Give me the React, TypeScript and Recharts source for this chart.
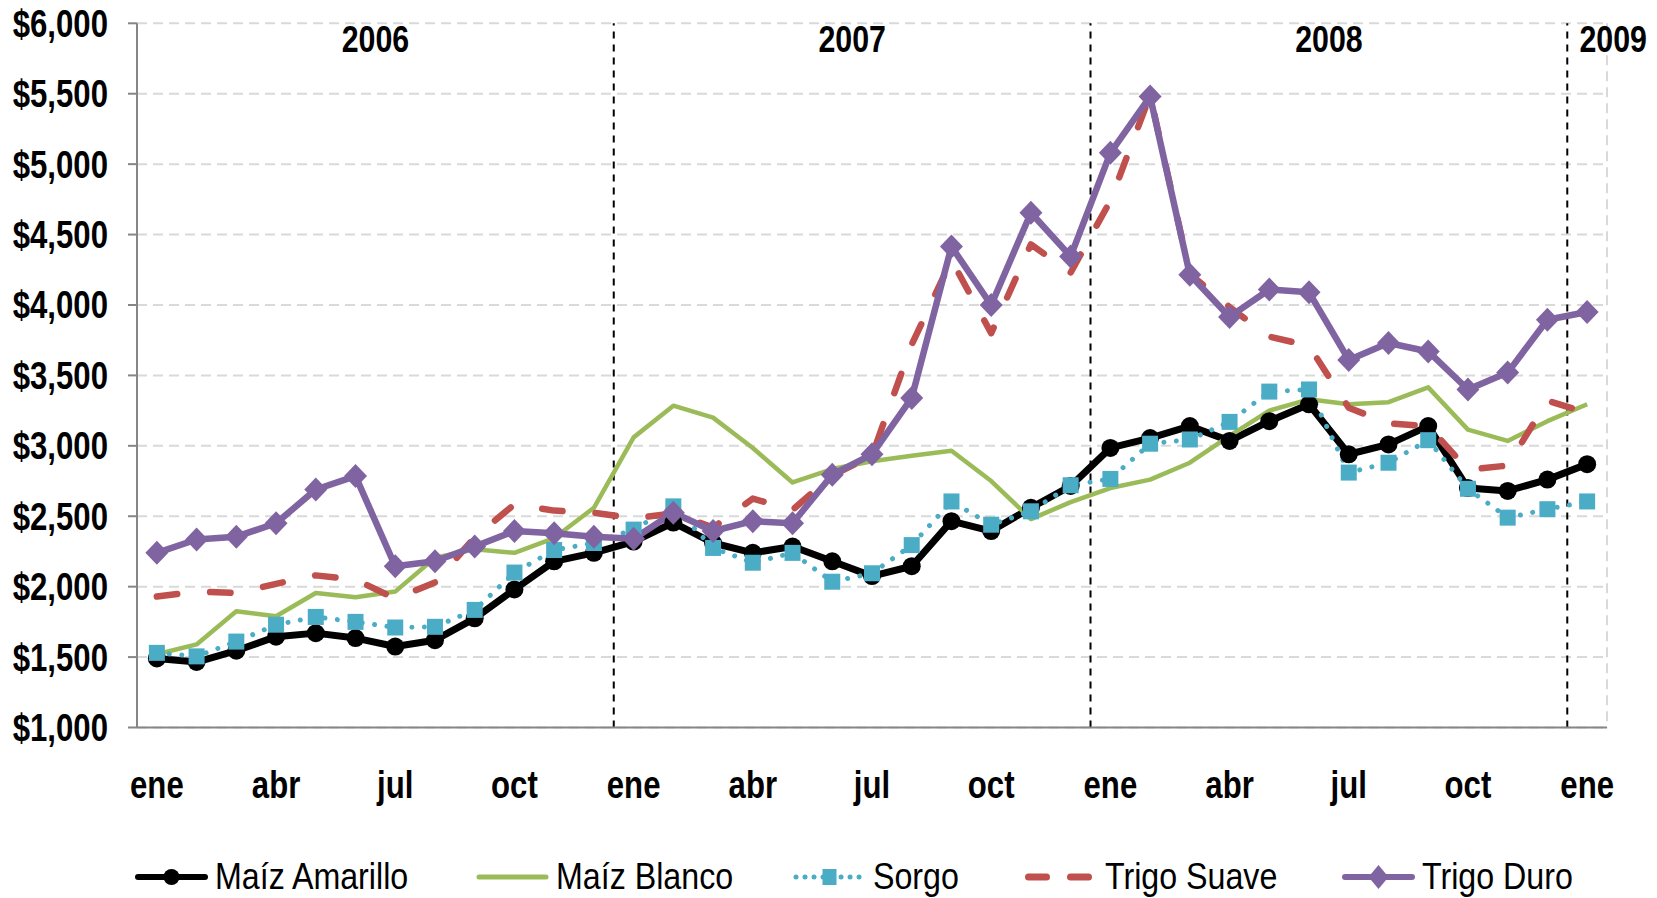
import React from 'react';
import { LineChart, Line, XAxis, YAxis, CartesianGrid, ReferenceLine, Legend } from 'recharts';

const months = [
  'ene', 'feb', 'mar', 'abr', 'may', 'jun', 'jul', 'ago', 'sep', 'oct', 'nov', 'dic',
  'ene', 'feb', 'mar', 'abr', 'may', 'jun', 'jul', 'ago', 'sep', 'oct', 'nov', 'dic',
  'ene', 'feb', 'mar', 'abr', 'may', 'jun', 'jul', 'ago', 'sep', 'oct', 'nov', 'dic',
  'ene',
];
const labeledMonths = ['ene', 'abr', 'jul', 'oct'];
const years = ['2006', '2007', '2008', '2009'];
const yTicks = [1000, 1500, 2000, 2500, 3000, 3500, 4000, 4500, 5000, 5500, 6000];

const maizAmarillo = [1490, 1465, 1545, 1645, 1670, 1635, 1575, 1620, 1775, 1980, 2180, 2240, 2320, 2455, 2310, 2240, 2285, 2180, 2075, 2145, 2465, 2395, 2560, 2715, 2985, 3055, 3140, 3035, 3175, 3295, 2940, 3010, 3140, 2700, 2680, 2760, 2870];
const maizBlanco = [1520, 1590, 1825, 1790, 1955, 1925, 1965, 2205, 2265, 2240, 2345, 2560, 3060, 3285, 3200, 2985, 2740, 2835, 2890, 2930, 2965, 2750, 2480, 2600, 2700, 2760, 2880, 3070, 3250, 3330, 3295, 3310, 3415, 3115, 3035, 3175, 3295];
const sorgo = [1530, 1505, 1610, 1730, 1785, 1750, 1710, 1715, 1835, 2100, 2260, 2310, 2405, 2570, 2275, 2170, 2240, 2035, 2095, 2295, 2605, 2440, 2535, 2720, 2765, 3015, 3045, 3170, 3385, 3400, 2810, 2880, 3040, 2695, 2490, 2550, 2605];
const trigoSuave = [1930, 1965, 1955, 2020, 2080, 2050, 1915, 2030, 2350, 2585, 2540, 2525, 2485, 2520, 2420, 2625, 2545, 2790, 2930, 3720, 4320, 3800, 4430, 4230, 4740, 5490, 4220, 3985, 3775, 3710, 3270, 3160, 3140, 2830, 2860, 3320, 3235];
const trigoDuro = [2240, 2335, 2355, 2450, 2690, 2785, 2145, 2180, 2285, 2395, 2380, 2355, 2340, 2525, 2395, 2465, 2450, 2795, 2940, 3340, 4415, 4000, 4655, 4345, 5080, 5480, 4215, 3915, 4110, 4090, 3610, 3730, 3670, 3400, 3520, 3895, 3950];

const seriesNames = ['Maíz Amarillo', 'Maíz Blanco', 'Sorgo', 'Trigo Suave', 'Trigo Duro'];

const data = months.map((m, i) => ({
  x: i,
  month: m,
  amarillo: maizAmarillo[i],
  blanco: maizBlanco[i],
  sorgo: sorgo[i],
  suave: trigoSuave[i],
  duro: trigoDuro[i],
}));

const FONT = '"Liberation Sans", Arial, sans-serif';
const NARROW = 0.82;
const LEGEND_NARROW = 0.87;

const C_BLACK = '#000000';
const C_GREEN = '#9BBB59';
const C_CYAN = '#4BACC6';
const C_RED = '#C0504D';
const C_PURPLE = '#8064A2';

const boundaries = [...months.map((_, i) => i - 0.5), months.length - 0.5];
const labelTicks = months.map((m, i) => (labeledMonths.includes(m) && i % 3 === 0 ? i : -1)).filter((i) => i >= 0);
const yearDividers = months.map((m, i) => (i > 0 && m === 'ene' ? i - 0.5 : null)).filter((v) => v !== null) as number[];
const yearCenters = years.map((_, yi) => {
  const start = yi * 12;
  const end = Math.min(start + 11, months.length - 1);
  return (start + end) / 2;
});

const NarrowText = ({ x, y, anchor, dy, size, weight, children }: any) => (
  <g transform={`translate(${x},${y})`}>
    <text
      transform={`scale(${NARROW},1)`}
      x={0}
      y={0}
      dy={dy}
      textAnchor={anchor}
      fontSize={size}
      fontWeight={weight}
      fontFamily={FONT}
      fill="#000"
    >
      {children}
    </text>
  </g>
);

const YTick = (p: any) => (
  <NarrowText x={p.x} y={p.y} anchor="end" dy="0.355em" size={38} weight={700}>
    {'$' + Number(p.payload.value).toLocaleString('en-US')}
  </NarrowText>
);

const XLabelTick = (p: any) => (
  <NarrowText x={p.x} y={p.y} anchor="middle" dy="0.71em" size={38} weight={700}>
    {months[p.payload.value]}
  </NarrowText>
);

const circleDot = (color: string, r: number) => (p: any) => (
  <circle key={`c${p.index}`} cx={p.cx} cy={p.cy} r={r} fill={color} stroke="none" />
);
const squareDot = (color: string, s: number) => (p: any) => (
  <rect key={`s${p.index}`} x={p.cx - s / 2} y={p.cy - s / 2} width={s} height={s} fill={color} stroke="none" />
);
const diamondDot = (color: string, w: number, h: number) => (p: any) => (
  <polygon
    key={`d${p.index}`}
    points={`${p.cx},${p.cy - h / 2} ${p.cx + w / 2},${p.cy} ${p.cx},${p.cy + h / 2} ${p.cx - w / 2},${p.cy}`}
    fill={color}
    stroke="none"
  />
);

const yearLabel = (text: string, dx: number) => (props: any) => {
  const vb = props.viewBox || {};
  return (
    <NarrowText x={(vb.x || 0) + dx} y={(vb.y || 0) + 29} anchor="middle" dy={0} size={37} weight={700}>
      {text}
    </NarrowText>
  );
};

const LegendIcon = ({ idx }: { idx: number }) => {
  const w = 73;
  const h = 26;
  const m = h / 2;
  let content: React.ReactNode = null;
  if (idx === 0) {
    content = (
      <g>
        <line x1={3} y1={m} x2={w - 3} y2={m} stroke={C_BLACK} strokeWidth={6} strokeLinecap="round" />
        <circle cx={w / 2} cy={m} r={8} fill={C_BLACK} />
      </g>
    );
  } else if (idx === 1) {
    content = <line x1={3} y1={m} x2={w - 3} y2={m} stroke={C_GREEN} strokeWidth={5} strokeLinecap="round" />;
  } else if (idx === 2) {
    content = (
      <g>
        <line x1={3} y1={m} x2={w - 3} y2={m} stroke={C_CYAN} strokeWidth={5} strokeDasharray="0.01 9" strokeLinecap="round" />
        <rect x={w / 2 - 7} y={m - 8} width={14} height={16} fill={C_CYAN} />
      </g>
    );
  } else if (idx === 3) {
    content = (
      <g>
        <line x1={3.5} y1={m} x2={21.5} y2={m} stroke={C_RED} strokeWidth={7} strokeLinecap="round" />
        <line x1={45.5} y1={m} x2={63.5} y2={m} stroke={C_RED} strokeWidth={7} strokeLinecap="round" />
      </g>
    );
  } else {
    content = (
      <g>
        <line x1={3} y1={m} x2={w - 3} y2={m} stroke={C_PURPLE} strokeWidth={6} strokeLinecap="round" />
        <polygon points={`${w / 2},${m - 12} ${w / 2 + 10},${m} ${w / 2},${m + 12} ${w / 2 - 10},${m}`} fill={C_PURPLE} />
      </g>
    );
  }
  return (
    <svg width={w} height={h} style={{ display: 'block', flex: 'none' }}>
      {content}
    </svg>
  );
};

const legendLefts = [135, 476, 793, 1025, 1342];

const LegendContent = () => (
  <div style={{ position: 'relative', height: 40, width: '100%', fontFamily: FONT, fontSize: 37, lineHeight: '40px', color: '#000' }}>
    {seriesNames.map((n, i) => (
      <div
        key={n}
        style={{ position: 'absolute', left: legendLefts[i], top: 0, height: 40, display: 'flex', alignItems: 'center', whiteSpace: 'nowrap' }}
      >
        <LegendIcon idx={i} />
        <span
          style={{
            display: 'inline-block',
            marginLeft: 7,
            transform: `scaleX(${LEGEND_NARROW})`,
            transformOrigin: 'left center',
          }}
        >
          {n}
        </span>
      </div>
    ))}
  </div>
);

export default function App() {
  const W = 1657;
  const H = 898;
  return (
    <div style={{ width: W, height: H, marginLeft: -8, marginTop: -8 }}>
      <LineChart width={W} height={H} data={data} margin={{ top: 23.3, right: 50, left: 16, bottom: 1 }}>
        <CartesianGrid stroke="#d9d9d9" strokeWidth={2} strokeDasharray="10 6" />
        <XAxis
          type="number"
          dataKey="x"
          domain={[-0.5, 36.5]}
          allowDataOverflow
          ticks={boundaries}
          interval={0}
          tick={false}
          tickSize={10}
          height={12}
          axisLine={{ stroke: '#868686', strokeWidth: 2 }}
          tickLine={{ stroke: '#868686', strokeWidth: 2 }}
        />
        <XAxis
          xAxisId="lbl"
          type="number"
          dataKey="x"
          domain={[-0.5, 36.5]}
          allowDataOverflow
          ticks={labelTicks}
          interval={0}
          tickSize={0}
          tickMargin={32}
          height={117.5}
          axisLine={false}
          tickLine={false}
          tick={<XLabelTick />}
        />
        <YAxis
          type="number"
          domain={[1000, 6000]}
          ticks={yTicks}
          interval={0}
          width={121}
          tickSize={9}
          tickMargin={20}
          axisLine={{ stroke: '#868686', strokeWidth: 2 }}
          tickLine={{ stroke: '#868686', strokeWidth: 2 }}
          tick={<YTick />}
        />
        {yearDividers.map((x) => (
          <ReferenceLine key={`div${x}`} x={x} stroke="#000" strokeWidth={2} strokeDasharray="7 6" />
        ))}
        {years.map((y, i) => (
          <ReferenceLine
            key={`yr${y}`}
            x={yearCenters[i]}
            stroke="none"
            label={yearLabel(y, i === years.length - 1 ? 26 : 0)}
          />
        ))}
        <Legend verticalAlign="bottom" wrapperStyle={{ left: 0, width: W, height: 40 }} content={<LegendContent />} />
        <Line
          type="linear"
          dataKey="amarillo"
          name={seriesNames[0]}
          stroke={C_BLACK}
          strokeWidth={7}
          strokeLinejoin="round"
          dot={circleDot(C_BLACK, 9)}
          activeDot={false}
          isAnimationActive={false}
        />
        <Line
          type="linear"
          dataKey="blanco"
          name={seriesNames[1]}
          stroke={C_GREEN}
          strokeWidth={4.5}
          strokeLinejoin="round"
          dot={false}
          activeDot={false}
          isAnimationActive={false}
        />
        <Line
          type="linear"
          dataKey="sorgo"
          name={seriesNames[2]}
          stroke={C_CYAN}
          strokeWidth={5}
          strokeDasharray="0.01 12.5"
          strokeLinecap="round"
          strokeLinejoin="round"
          dot={squareDot(C_CYAN, 16)}
          activeDot={false}
          isAnimationActive={false}
        />
        <Line
          type="linear"
          dataKey="suave"
          name={seriesNames[3]}
          stroke={C_RED}
          strokeWidth={6.5}
          strokeDasharray="20.5 33"
          strokeLinecap="round"
          strokeLinejoin="round"
          dot={false}
          activeDot={false}
          isAnimationActive={false}
        />
        <Line
          type="linear"
          dataKey="duro"
          name={seriesNames[4]}
          stroke={C_PURPLE}
          strokeWidth={6.5}
          strokeLinejoin="round"
          dot={diamondDot(C_PURPLE, 23, 24)}
          activeDot={false}
          isAnimationActive={false}
        />
      </LineChart>
    </div>
  );
}
